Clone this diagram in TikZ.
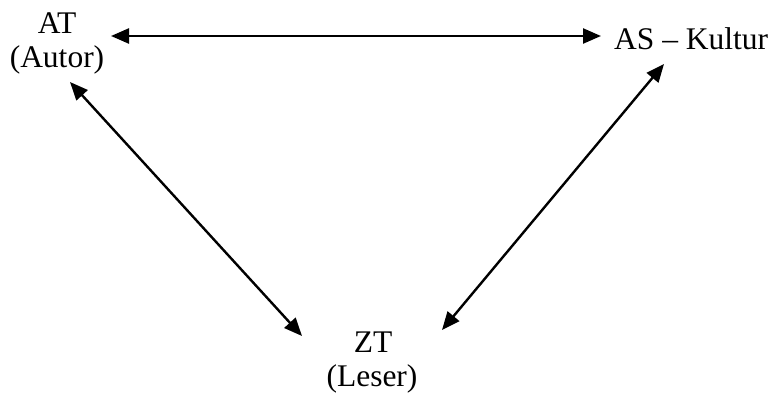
\documentclass[tikz,border=0pt]{standalone}
\usepackage{fontspec}
\setmainfont{Liberation Serif}
\usetikzlibrary{arrows.meta}
\tikzset{
  lbl/.style={inner sep=0pt, font=\fontsize{31.5}{35}\selectfont},
  conn/.style={line width=2.4pt, {Triangle[length=18pt,width=15pt]}-{Triangle[length=18pt,width=15pt]}}
}
\begin{document}
\begin{tikzpicture}[x=1pt,y=1pt]
\useasboundingbox (0,0) rectangle (774,392);
\node[lbl, anchor=base] (at) at (57,359) {AT};
\node[lbl, anchor=base] (atsub) at (57,324) {(Autor)};
\node[lbl, anchor=base west] (as) at (614,342) {AS -- Kultur};
\node[lbl, anchor=base] (zt) at (373,40) {ZT};
\node[lbl, anchor=base] (ztsub) at (372,6) {(Leser)};
\coordinate (atR) at (111,356);
\coordinate (asL) at (601,356);
\coordinate (atB) at (70,310);
\coordinate (ztL) at (302,56);
\coordinate (asB) at (664,328);
\coordinate (ztR) at (442,62);
\draw[conn] (atR) -- (asL);
\draw[conn] (atB) -- (ztL);
\draw[conn] (asB) -- (ztR);
\end{tikzpicture}
\end{document}
